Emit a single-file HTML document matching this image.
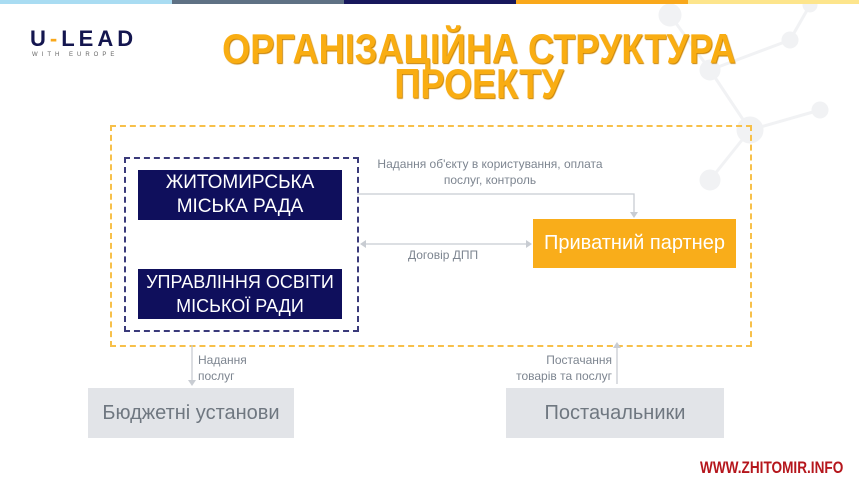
<!DOCTYPE html>
<html><head><meta charset="utf-8"><style>
body{margin:0;width:859px;height:484px;position:relative;background:#fff;font-family:"Liberation Sans",sans-serif;overflow:hidden}
.a{position:absolute}
.bar{top:0;height:4px;width:172px}
.nb{background:#0f0f5c;color:#fff;text-align:center;font-size:19px;line-height:24px;display:flex;align-items:center;justify-content:center}
.gb{background:#e2e4e8;color:#6f7780;font-size:20px;display:flex;align-items:center;justify-content:center}
.lbl{color:#7d8590;font-size:12px;line-height:16px}
</style></head><body>
<svg class="a" style="left:560px;top:0" width="299" height="200">
<g stroke="#f1f2f4" stroke-width="3" fill="#f1f2f4">
<line x1="110" y1="15" x2="150" y2="70"/><line x1="150" y1="70" x2="230" y2="40"/><line x1="150" y1="70" x2="190" y2="130"/><line x1="190" y1="130" x2="260" y2="110"/><line x1="190" y1="130" x2="150" y2="180"/><line x1="230" y1="40" x2="250" y2="5"/>
<circle cx="110" cy="15" r="10"/><circle cx="150" cy="70" r="9"/><circle cx="230" cy="40" r="7"/><circle cx="190" cy="130" r="12"/><circle cx="260" cy="110" r="7"/><circle cx="150" cy="180" r="9"/><circle cx="250" cy="5" r="6"/></g></svg>
<div class="a bar" style="left:0;background:#a9dcf2"></div>
<div class="a bar" style="left:172px;background:#5f7184"></div>
<div class="a bar" style="left:344px;background:#17185c"></div>
<div class="a bar" style="left:516px;background:#f9a81b"></div>
<div class="a bar" style="left:688px;width:171px;background:#fde58c"></div>
<div class="a" style="left:30px;top:26px;font-size:22px;font-weight:bold;letter-spacing:4px;color:#14164f">U<span style="color:#f9a81b">-</span>LEAD</div>
<div class="a" style="left:32px;top:52px;font-size:6px;letter-spacing:4px;color:#666">WITH EUROPE</div>
<div class="a" style="left:0;top:31px;width:958px;text-align:center;font-weight:bold;font-size:42px;line-height:35px;color:#f9ad12;text-shadow:1px 1px 1px #c78000;transform:scaleX(0.86);transform-origin:479px 0">ОРГАНІЗАЦІЙНА СТРУКТУРА<br>ПРОЕКТУ</div>
<div class="a" style="left:110px;top:125px;width:638px;height:218px;border:2px dashed #f7c04a"></div>
<div class="a" style="left:124px;top:157px;width:231px;height:171px;border:2px dashed #3a3a7a"></div>
<div class="a nb" style="left:138px;top:170px;width:204px;height:50px">ЖИТОМИРСЬКА<br>МІСЬКА РАДА</div>
<div class="a nb" style="left:138px;top:269px;width:204px;height:50px;font-size:18px">УПРАВЛІННЯ ОСВІТИ<br>МІСЬКОЇ РАДИ</div>
<div class="a" style="left:533px;top:219px;width:203px;height:49px;background:#f9ad1a;color:#fff;font-size:20px;display:flex;align-items:center;justify-content:center">Приватний партнер</div>
<div class="a gb" style="left:88px;top:388px;width:206px;height:50px">Бюджетні установи</div>
<div class="a gb" style="left:506px;top:388px;width:218px;height:50px">Постачальники</div>
<svg class="a" style="left:0;top:0" width="859" height="484">
<g stroke="#c8ccd2" stroke-width="1.3" fill="none">
<polyline points="357,194 634,194 634,214"/>
<line x1="362" y1="244" x2="528" y2="244"/>
<line x1="192" y1="345" x2="192" y2="382"/>
<line x1="617" y1="384" x2="617" y2="346"/>
</g>
<g fill="#c8ccd2">
<polygon points="630,212 638,212 634,218"/>
<polygon points="360,244 366,240 366,248"/>
<polygon points="532,244 526,240 526,248"/>
<polygon points="188,380 196,380 192,386"/>
<polygon points="613,348 621,348 617,342"/>
</g></svg>
<div class="a lbl" style="left:370px;top:156px;width:240px;text-align:center">Надання об'єкту в користування, оплата послуг, контроль</div>
<div class="a lbl" style="left:408px;top:247px">Договір ДПП</div>
<div class="a lbl" style="left:198px;top:352px">Надання<br>послуг</div>
<div class="a lbl" style="left:500px;top:352px;width:112px;text-align:right">Постачання<br>товарів та послуг</div>
<div class="a" style="left:700px;top:458px;font-weight:bold;font-size:17px;color:#b5161c;transform:scaleX(0.8);transform-origin:0 0;white-space:nowrap">WWW.ZHITOMIR.INFO</div>
</body></html>
